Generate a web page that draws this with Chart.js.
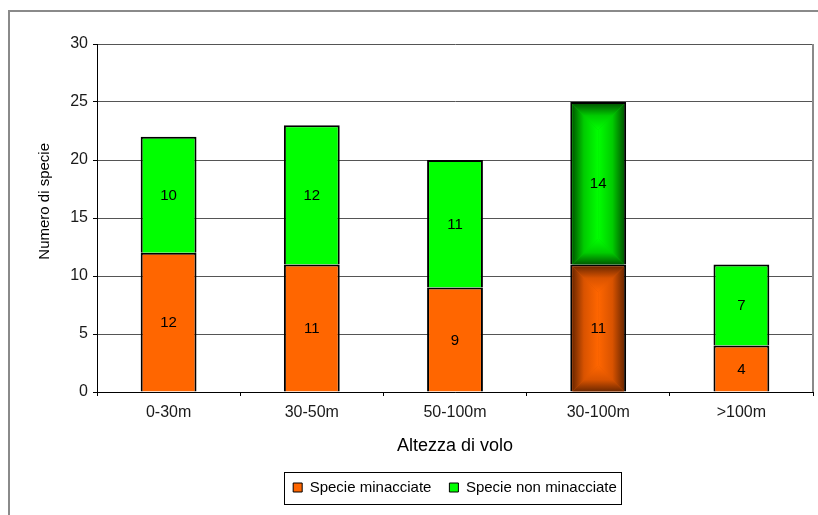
<!DOCTYPE html>
<html>
<head>
<meta charset="utf-8">
<script src="https://cdn.jsdelivr.net/npm/chart.js@4.4.1/dist/chart.umd.min.js"></script>
<style>
  html, body { margin: 0; padding: 0; background: #fff; }
  #wrap { width: 818px; height: 515px; }
</style>
</head>
<body>
<div id="wrap"><canvas id="c" width="818" height="515"></canvas></div>
<script>
// Altezza di volo: numero di specie per fascia
const categories = ['0-30m', '30-50m', '50-100m', '30-100m', '>100m'];
const minacciate = [12, 11, 9, 11, 4];
const nonMinacciate = [10, 12, 11, 14, 7];
const yTickMax = 30;
const yTickStep = 5;
const highlighted = 3; // bar drawn with the shaded "pillow" fill

const FONT = "'Liberation Sans', Arial, sans-serif";
const ORANGE = '#ff6600', ORANGE_MID = '#d95300', ORANGE_EDGE = '#6e2800';
const GREEN = '#00ff00', GREEN_MID = '#00cc00', GREEN_EDGE = '#005a00';

function fills(base, edge) {
  return categories.map((_, i) => i === highlighted ? edge : base);
}

// Outer frame and the right edge of the plot area
const framePlugin = {
  id: 'frame',
  beforeDraw(chart) {
    const ctx = chart.ctx;
    ctx.save();
    ctx.strokeStyle = '#8a8a8a';
    ctx.lineWidth = 2;
    ctx.beginPath();
    ctx.moveTo(9, 515);
    ctx.lineTo(9, 11);
    ctx.lineTo(818, 11);
    ctx.stroke();
    ctx.restore();
  },
  afterDraw(chart) {
    const ctx = chart.ctx, a = chart.chartArea;
    ctx.save();
    ctx.strokeStyle = '#8a8a8a';
    ctx.lineWidth = 2;
    ctx.beginPath();
    ctx.moveTo(a.right, a.top);
    ctx.lineTo(a.right, a.bottom);
    ctx.stroke();
    ctx.restore();
  }
};

// Rectangular gradient from the centre outwards for the highlighted bar
function pillow(ctx, x0, y0, x1, y1, stops) {
  const w = x1 - x0, h = y1 - y0;
  if (w <= 0 || h <= 0) return;
  const half = Math.min(w, h) / 2;
  const xc = (x0 + x1) / 2, yc = (y0 + y1) / 2;
  const tall = h >= w;
  const a = tall ? [xc, y0 + half] : [x0 + half, yc];
  const b = tall ? [xc, y1 - half] : [x1 - half, yc];
  const lin = (ax, ay, bx, by) => {
    const g = ctx.createLinearGradient(ax, ay, bx, by);
    stops.forEach(([o, c]) => g.addColorStop(o, c));
    return g;
  };
  const poly = (pts, g) => {
    ctx.beginPath();
    ctx.moveTo(pts[0][0], pts[0][1]);
    for (let i = 1; i < pts.length; i++) ctx.lineTo(pts[i][0], pts[i][1]);
    ctx.closePath();
    ctx.fillStyle = g;
    ctx.fill();
  };
  ctx.save();
  ctx.beginPath();
  ctx.rect(x0, y0, w, h);
  ctx.clip();
  ctx.fillStyle = stops[1][1];
  ctx.fillRect(x0, y0, w, h);
  poly([[x0, y0], [x1, y0], ...(tall ? [a] : [b, a])], lin(xc, y0, xc, y0 + half));
  poly([[x1, y1], [x0, y1], ...(tall ? [b] : [a, b])], lin(xc, y1, xc, y1 - half));
  poly([[x0, y1], [x0, y0], ...(tall ? [a, b] : [a])], lin(x0, yc, x0 + half, yc));
  poly([[x1, y0], [x1, y1], ...(tall ? [b, a] : [b])], lin(x1, yc, x1 - half, yc));
  ctx.restore();
}

const pillowPlugin = {
  id: 'pillow',
  afterDatasetDraw(chart, args) {
    const el = args.meta.data[highlighted];
    if (!el) return;
    const ds = chart.data.datasets[args.index];
    const p = el.getProps(['x', 'y', 'base', 'width'], true);
    const bw = ds.borderWidth;
    const top = Math.min(p.y, p.base), bottom = Math.max(p.y, p.base);
    pillow(chart.ctx, p.x - p.width / 2 + bw, top + bw, p.x + p.width / 2 - bw, bottom, ds.shadeStops);
  }
};

// Value written in the middle of every segment
const valuePlugin = {
  id: 'values',
  afterDatasetsDraw(chart) {
    const ctx = chart.ctx;
    ctx.save();
    ctx.font = '15px ' + FONT;
    ctx.fillStyle = '#000';
    ctx.textAlign = 'center';
    ctx.textBaseline = 'middle';
    chart.data.datasets.forEach((ds, di) => {
      chart.getDatasetMeta(di).data.forEach((el, i) => {
        const p = el.getProps(['x', 'y', 'base'], true);
        ctx.fillText(String(ds.data[i]), p.x, (p.y + p.base) / 2 + 1);
      });
    });
    ctx.restore();
  }
};

// Frame around the legend items
const legendBoxPlugin = {
  id: 'legendBox',
  afterDraw(chart) {
    const lg = chart.legend;
    if (!lg || !lg.legendHitBoxes || !lg.legendHitBoxes.length) return;
    const hb = lg.legendHitBoxes;
    const l = hb[0].left - 9;
    const r = hb[hb.length - 1].left + hb[hb.length - 1].width + 4;
    const cy = hb[0].top + hb[0].height / 2;
    const ctx = chart.ctx;
    ctx.save();
    ctx.strokeStyle = '#000';
    ctx.lineWidth = 1;
    ctx.strokeRect(Math.round(l) + 0.5, Math.round(cy - 16) + 0.5, Math.round(r - l), 32);
    ctx.restore();
  }
};

new Chart(document.getElementById('c'), {
  type: 'bar',
  data: {
    labels: categories,
    datasets: [
      {
        label: 'Specie minacciate',
        data: minacciate,
        backgroundColor: fills(ORANGE, ORANGE_EDGE),
        legendColor: ORANGE,
        shadeStops: [[0, ORANGE_EDGE], [0.45, ORANGE_MID], [1, ORANGE]],
        borderColor: '#000',
        borderWidth: 2,
        borderSkipped: 'start',
        categoryPercentage: 1,
        barPercentage: 0.39
      },
      {
        label: 'Specie non minacciate',
        data: nonMinacciate,
        backgroundColor: fills(GREEN, GREEN_EDGE),
        legendColor: GREEN,
        shadeStops: [[0, GREEN_EDGE], [0.45, GREEN_MID], [1, GREEN]],
        borderColor: '#000',
        borderWidth: 2,
        borderSkipped: 'start',
        categoryPercentage: 1,
        barPercentage: 0.39
      }
    ]
  },
  options: {
    responsive: false,
    animation: false,
    devicePixelRatio: 1,
    layout: { padding: { left: 0, top: 44, right: 5, bottom: 10 } },
    scales: {
      x: {
        stacked: true,
        grid: { display: true, drawOnChartArea: false, drawTicks: true, tickLength: 4, color: '#000', offset: true },
        border: { display: true, color: '#000', width: 1 },
        ticks: { color: '#1a1a1a', font: { family: FONT, size: 16 }, padding: 7, maxRotation: 0 },
        title: { display: true, text: 'Altezza di volo', color: '#000', font: { family: FONT, size: 18 }, padding: { top: 0, bottom: 5 } },
        afterFit(scale) { scale.height = 70; }
      },
      y: {
        stacked: true,
        min: 0,
        max: yTickMax,
        ticks: { stepSize: yTickStep, color: '#1a1a1a', font: { family: FONT, size: 16 }, padding: 5 },
        grid: { color: '#555', lineWidth: 1, tickLength: 4, tickColor: '#000' },
        border: { display: true, color: '#000', width: 1 },
        // leading spaces lift the title slightly above the axis midpoint
        title: { display: true, text: '        Numero di specie', color: '#000', font: { family: FONT, size: 15 }, padding: { top: 36, bottom: 0 } },
        afterFit(scale) { scale.width = 97; }
      }
    },
    plugins: {
      legend: {
        position: 'bottom',
        fullSize: false,
        labels: {
          boxWidth: 9,
          boxHeight: 9,
          padding: 18,
          color: '#000',
          font: { family: FONT, size: 15 },
          generateLabels(chart) {
            return chart.data.datasets.map((ds, i) => ({
              text: ds.label,
              fillStyle: ds.legendColor,
              strokeStyle: '#000',
              lineWidth: 1,
              hidden: false,
              datasetIndex: i,
              fontColor: '#000'
            }));
          }
        }
      },
      tooltip: { enabled: false }
    }
  },
  plugins: [framePlugin, pillowPlugin, valuePlugin, legendBoxPlugin]
});
</script>
</body>
</html>
